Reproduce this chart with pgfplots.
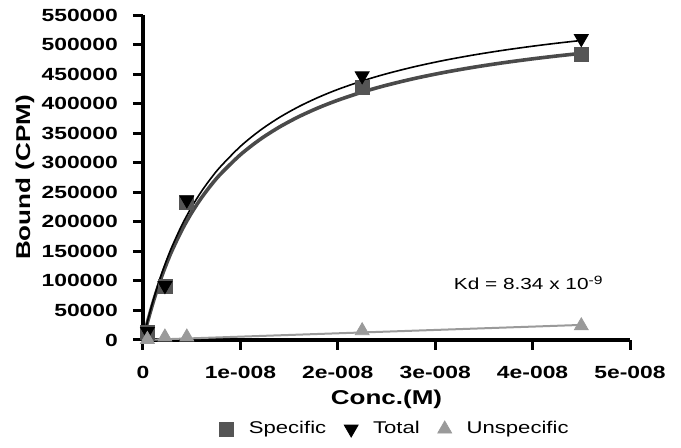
\documentclass[border=0pt]{standalone}
\usepackage{fontspec}
\setmainfont{Liberation Sans}[FakeStretch=1.3]
\usepackage{pgfplots}
\pgfplotsset{compat=1.18}
\definecolor{specgray}{HTML}{555555}
\definecolor{speccurve}{HTML}{4A4A4A}
\definecolor{unspgray}{HTML}{9A9A9A}
\begin{document}
\begin{tikzpicture}
\begin{axis}[
  at={(0,0)}, anchor=origin,
  scale only axis, width=243.5pt, height=162.5pt,
  xmin=0, xmax=50, ymin=0, ymax=550000,
  axis lines=left,
  axis line style={-, line width=2pt, black},
  tick align=outside,
  major tick length=5pt,
  tick style={line width=1.5pt, black},
  scaled y ticks=false, scaled x ticks=false,
  xtick={0,10,20,30,40,50},
  xticklabels={0,1e-008,2e-008,3e-008,4e-008,5e-008},
  ytick={0,50000,100000,150000,200000,250000,300000,350000,400000,450000,500000,550000},
  yticklabels={0,50000,100000,150000,200000,250000,300000,350000,400000,450000,500000,550000},
  ticklabel style={font=\bfseries\fontsize{8.8}{10}\selectfont},
  xticklabel style={yshift=-4.5pt},
  yticklabel style={xshift=-4pt},
  xlabel={Conc.(M)},
  ylabel={Bound (CPM)},
  xlabel style={font=\bfseries\fontsize{10}{12}\selectfont, at={(axis description cs:0.5,-0.1815)}, anchor=center},
  ylabel style={font=\bfseries\fontsize{10}{12}\selectfont, at={(axis description cs:-0.2423,0.5)}, anchor=center},
  clip=false,
  legend columns=3,
  legend style={draw=none, fill=none, at={(axis description cs:0.52,-0.274)}, anchor=center,
    font=\fontsize{8.5}{10}\selectfont,
    /tikz/every odd column/.append style={column sep=5.5pt},
    /tikz/every even column/.append style={column sep=7pt}},
]
% fitted curves
\addplot[forget plot, speccurve, line width=1.8pt, smooth] coordinates {
(0,0)(0.25,16735)(0.5,32523)(1,61563)(1.5,87652)(2,111219)(2.5,132610)(3,152116)
(4,186386)(5,215517)(6,240586)(7,262386)(8,281519)(10,313522)(12,339233)(14,360340)
(16,377979)(18,392938)(20,405787)(22.5,419504)(25,431163)(28,443038)(31,453101)
(34,461738)(37,469233)(40,475797)(42.5,480675)(45,485094)};
\addplot[forget plot, black, line width=0.8pt, smooth] coordinates {
(0,0)(0.25,17488)(0.5,33987)(1,64333)(1.5,91596)(2,116224)(2.5,138577)(3,158961)
(4,194773)(5,225215)(6,251412)(7,274193)(8,294187)(10,327630)(12,354498)(14,376555)
(16,394988)(18,410620)(20,424047)(22.5,438382)(25,450565)(28,462975)(31,473491)
(34,482516)(37,490348)(40,497208)(42.5,502305)(45,506923)};
\addplot[forget plot, unspgray, line width=1pt] coordinates {(0,0)(45,25500)};
% data points
\addplot[only marks, mark=square*, mark size=3.5pt, specgray, mark options={draw=specgray, fill=specgray}] coordinates {
(0.45,13500)(2.25,90000)(4.5,233000)(22.5,428000)(45,484000)};
\addlegendentry{Specific}
\addplot[only marks, mark=triangle*, mark size=4pt, black, mark options={rotate=180, draw=black, fill=black}] coordinates {
(0.45,14500)(2.25,92000)(4.5,237000)(22.5,447000)(45,510000)};
\addlegendentry{Total}
\addplot[only marks, mark=triangle*, mark size=4pt, unspgray, mark options={draw=unspgray, fill=unspgray}] coordinates {
(0.45,1000)(2.25,5000)(4.5,5000)(22.5,15700)(45,24000)};
\addlegendentry{Unspecific}
\node[font=\fontsize{8}{10}\selectfont, anchor=center] at (axis cs:39.6,96400) {Kd = 8.34 x 10\textsuperscript{-9}};
\end{axis}
\pgfresetboundingbox
\path[use as bounding box] (-71.5pt,-54pt) rectangle (269pt,170pt);
\end{tikzpicture}
\end{document}
